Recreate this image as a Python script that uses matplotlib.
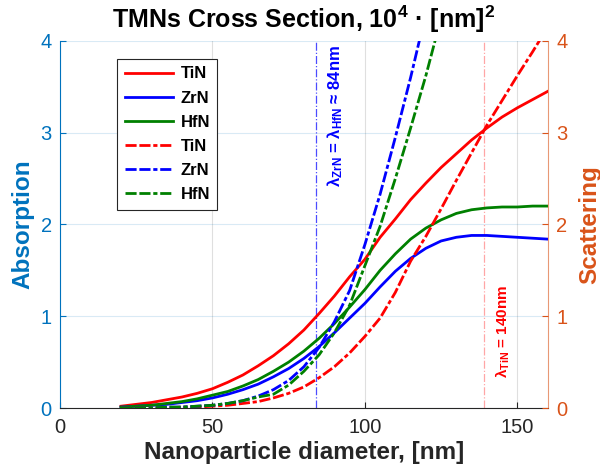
import matplotlib
matplotlib.use('Agg')
import matplotlib.pyplot as plt

plt.rcParams['font.family'] = ['Liberation Sans', 'DejaVu Sans']
plt.rcParams['mathtext.fontset'] = 'custom'
plt.rcParams['mathtext.rm'] = 'Liberation Sans:bold'
plt.rcParams['mathtext.bf'] = 'Liberation Sans:bold'
plt.rcParams['mathtext.it'] = 'Liberation Sans:bold'
plt.rcParams['mathtext.default'] = 'bf'

# ---- data ----
diameter = [20, 25, 30, 35, 40, 45, 50, 55, 60, 65, 70, 75, 80, 85, 90, 95,
            100, 105, 110, 115, 120, 125, 130, 135, 140, 145, 150, 155, 160]

tin_abs = [0.02, 0.04, 0.06, 0.09, 0.12, 0.16, 0.21, 0.28, 0.36, 0.46, 0.57, 0.70,
           0.85, 1.03, 1.22, 1.43, 1.62, 1.86, 2.06, 2.27, 2.45, 2.62, 2.77, 2.92,
           3.05, 3.17, 3.27, 3.36, 3.45]
zrn_abs = [0.01, 0.02, 0.03, 0.04, 0.06, 0.08, 0.11, 0.15, 0.20, 0.26, 0.34, 0.43,
           0.54, 0.67, 0.82, 0.98, 1.14, 1.32, 1.49, 1.63, 1.74, 1.82, 1.86, 1.88,
           1.88, 1.87, 1.86, 1.85, 1.84]
hfn_abs = [0.01, 0.02, 0.03, 0.05, 0.07, 0.10, 0.14, 0.18, 0.24, 0.31, 0.40, 0.50,
           0.62, 0.76, 0.92, 1.10, 1.29, 1.50, 1.68, 1.84, 1.96, 2.05, 2.12, 2.16,
           2.18, 2.19, 2.19, 2.20, 2.20]

tin_sca = [0.0, 0.0, 0.0, 0.0, 0.01, 0.01, 0.02, 0.03, 0.05, 0.07, 0.11, 0.16,
           0.23, 0.33, 0.45, 0.60, 0.78, 0.98, 1.26, 1.60, 1.87, 2.17, 2.48, 2.78,
           3.08, 3.35, 3.62, 3.88, 4.15]
zrn_sca = [0.0, 0.0, 0.0, 0.01, 0.01, 0.02, 0.03, 0.05, 0.08, 0.13, 0.20, 0.30,
           0.45, 0.66, 0.94, 1.28, 1.78, 2.33, 2.95, 3.60, 4.30]
hfn_sca = [0.0, 0.0, 0.0, 0.01, 0.01, 0.02, 0.03, 0.05, 0.08, 0.12, 0.15, 0.25,
           0.40, 0.58, 0.82, 1.12, 1.55, 1.98, 2.50, 3.05, 3.62, 4.25]

materials = ['TiN', 'ZrN', 'HfN']
colors = ['#FF0000', '#0000FF', '#008000']
lambda_zrn_hfn = 84
lambda_tin = 139
xticks = [0, 50, 100, 150]
yticks = [0, 1, 2, 3, 4]

BLUE_AX = '#0072BD'
ORANGE_AX = '#D95319'
DARK = '#262626'

fig = plt.figure(figsize=(6, 4.75), dpi=100)
ax = fig.add_axes([0.1, 0.141, 0.813, 0.773])
ax2 = ax.twinx()

dash = (4, 1, 4, 1, 1.5, 1)
handles = []
for name, c, y in zip(materials, colors, [tin_abs, zrn_abs, hfn_abs]):
    h, = ax.plot(diameter[:len(y)], y, color=c, lw=2, label=name, zorder=3)
    handles.append(h)
for name, c, y in zip(materials, colors, [tin_sca, zrn_sca, hfn_sca]):
    h, = ax2.plot(diameter[:len(y)], y, color=c, lw=2, ls=(0, dash), label=name, zorder=3)
    handles.append(h)

ax.axvline(lambda_zrn_hfn, color='#0000FF', lw=0.9, ls='-.', alpha=0.7, zorder=2)
ax.axvline(lambda_tin, color='#FF0000', lw=0.9, ls='-.', alpha=0.35, zorder=2)

for a in (ax, ax2):
    a.set_xlim(0, 160)
    a.set_ylim(0, 4)
    a.set_yticks(yticks)
    a.spines['top'].set_visible(False)
ax.set_xticks(xticks)

ax.yaxis.grid(True, color=BLUE_AX, alpha=0.15, lw=0.8)
ax.xaxis.grid(True, color='#808080', alpha=0.25, lw=0.8)
ax.set_axisbelow(True)

ax.spines['right'].set_visible(False)
ax2.spines['left'].set_visible(False)
ax2.spines['bottom'].set_visible(False)
ax.spines['left'].set_color(BLUE_AX)
ax2.spines['right'].set_color(ORANGE_AX)
ax2.spines['right'].set_alpha(0.6)
ax.spines['bottom'].set_color(DARK)

ax.tick_params(axis='y', colors=BLUE_AX, direction='in', labelsize=14.5, length=4, pad=6)
ax2.tick_params(axis='y', colors=ORANGE_AX, direction='in', labelsize=14.5, length=4, pad=6)
ax.tick_params(axis='x', colors=DARK, direction='in', labelsize=14.5, length=4, pad=7)

ax.set_ylabel('Absorption', color=BLUE_AX, fontsize=17.5, fontweight='bold', labelpad=4)
ax2.set_ylabel('Scattering', color=ORANGE_AX, fontsize=17.5, fontweight='bold',
               rotation=90, labelpad=8)
ax.set_xlabel('Nanoparticle diameter, [nm]', color=DARK, fontsize=17.5, fontweight='bold', labelpad=3)
ax.set_title('TMNs Cross Section, $10^4$ \u00b7 [nm]$^2$', fontsize=18, fontweight='bold', pad=9)

ax2.text(86.9, 3.96, r'$\lambda_{ZrN}$ = $\lambda_{HfN}$ ≈ 84nm', rotation=90, ha='left', va='top',
         color='#0000FF', fontsize=12, fontweight='bold')
ax2.text(142.3, 0.33, r'$\lambda_{TiN}$ = 140nm', rotation=90, ha='left', va='bottom',
         color='#FF0000', fontsize=11, fontweight='bold')

leg = ax2.legend(handles, [h.get_label() for h in handles], loc='upper left',
                 bbox_to_anchor=(0.117, 0.951), borderaxespad=0, fancybox=False,
                 edgecolor=DARK, framealpha=1, handlelength=2.9, handletextpad=0.45,
                 labelspacing=0.55, borderpad=0.45,
                 prop={'weight': 'bold', 'size': 12})
leg.get_frame().set_linewidth(0.8)

fig.savefig('out.png', dpi=100)
